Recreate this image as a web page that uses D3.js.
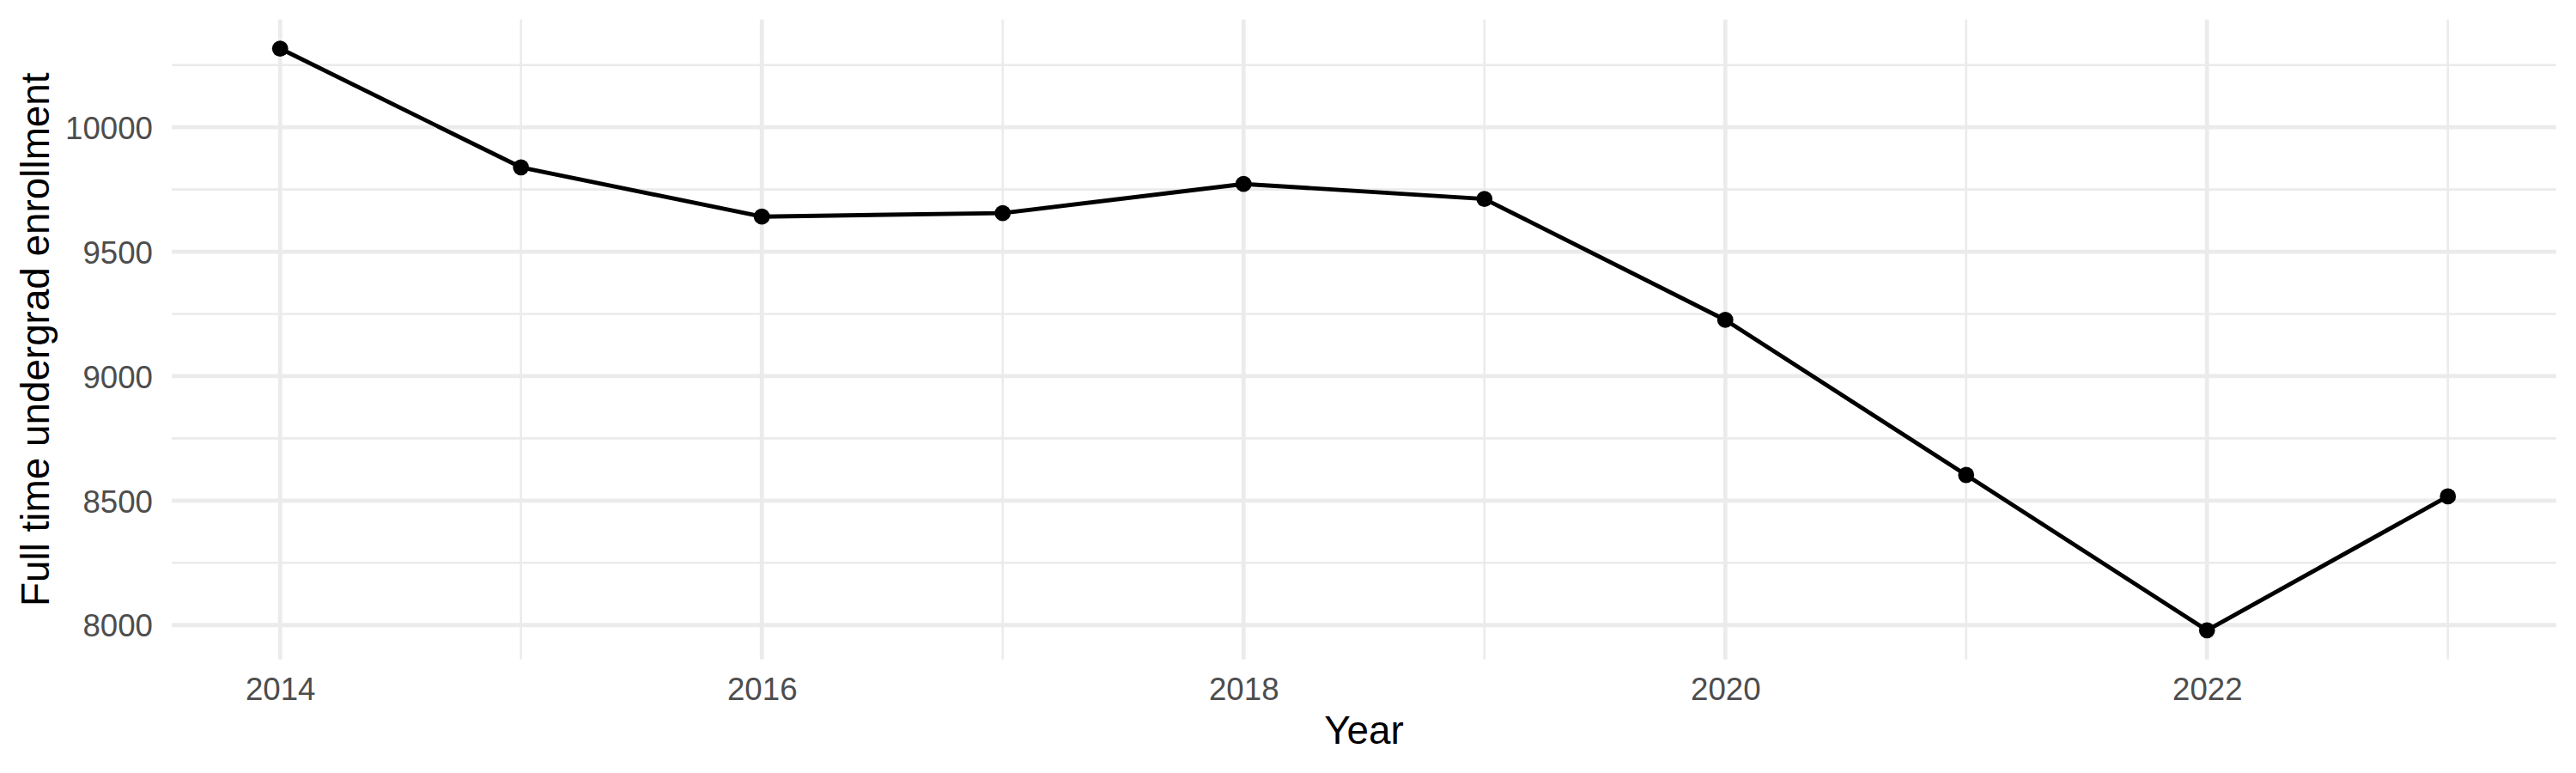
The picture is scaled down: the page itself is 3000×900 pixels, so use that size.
<!DOCTYPE html>
<html>
<head>
<meta charset="utf-8">
<script src="https://cdn.jsdelivr.net/npm/d3@7"></script>
<style>
  html, body { margin: 0; padding: 0; background: #fff; }
  svg { display: block; }
  text { font-family: "Liberation Sans", Arial, Helvetica, sans-serif; }
</style>
</head>
<body>
<svg id="chart" width="3000" height="900"></svg>
<script>
const years = [2014, 2015, 2016, 2017, 2018, 2019, 2020, 2021, 2022, 2023];
const enrollment = [10316, 9839, 9641, 9655, 9772, 9712, 9226, 8603, 7979, 8517];
const xTicks = [2014, 2016, 2018, 2020, 2022];
const xMinorTicks = [2015, 2017, 2019, 2021, 2023];
const yTicks = [8000, 8500, 9000, 9500, 10000];
const yMinorTicks = [7750, 8250, 8750, 9250, 9750, 10250];
const xTitle = "Year";
const yTitle = "Full time undergrad enrollment";

const data = years.map((y, i) => ({ year: y, value: enrollment[i] }));

const W = 3000, H = 900;
const panel = { left: 200, right: 2977, top: 22.7, bottom: 767.7 };

const svg = d3.select("#chart");

function expand(ext) {
  const d = (ext[1] - ext[0]) * 0.05;
  return [ext[0] - d, ext[1] + d];
}

const x = d3.scaleLinear()
  .domain(expand(d3.extent(years)))
  .range([panel.left, panel.right]);
const y = d3.scaleLinear()
  .domain(expand(d3.extent(enrollment)))
  .range([panel.bottom, panel.top]);

const grid = svg.append("g");
const yMinorVis = yMinorTicks.filter(v => y(v) >= panel.top && y(v) <= panel.bottom);

// minor gridlines
grid.selectAll("line.ymin").data(yMinorVis).enter().append("line")
  .attr("x1", panel.left).attr("x2", panel.right)
  .attr("y1", d => y(d)).attr("y2", d => y(d))
  .attr("stroke", "#EBEBEB").attr("stroke-width", 2.6);
grid.selectAll("line.xmin").data(xMinorTicks).enter().append("line")
  .attr("y1", panel.top).attr("y2", panel.bottom)
  .attr("x1", d => x(d)).attr("x2", d => x(d))
  .attr("stroke", "#EBEBEB").attr("stroke-width", 2.6);
// major gridlines
grid.selectAll("line.ymaj").data(yTicks).enter().append("line")
  .attr("x1", panel.left).attr("x2", panel.right)
  .attr("y1", d => y(d)).attr("y2", d => y(d))
  .attr("stroke", "#EBEBEB").attr("stroke-width", 4.8);
grid.selectAll("line.xmaj").data(xTicks).enter().append("line")
  .attr("y1", panel.top).attr("y2", panel.bottom)
  .attr("x1", d => x(d)).attr("x2", d => x(d))
  .attr("stroke", "#EBEBEB").attr("stroke-width", 4.8);

// axes (text only, via d3 axis)
const xAxis = svg.append("g")
  .attr("transform", `translate(0,${panel.bottom})`)
  .call(d3.axisBottom(x).tickValues(xTicks).tickFormat(d3.format("d")).tickSize(0).tickPadding(20.7));
xAxis.select(".domain").remove();
xAxis.selectAll("text")
  .attr("font-size", 36.67).attr("fill", "#4D4D4D")
  .attr("font-family", "Liberation Sans, Arial, sans-serif")
  .attr("dy", "0.72em");

const yAxis = svg.append("g")
  .attr("transform", `translate(${panel.left},0)`)
  .call(d3.axisLeft(y).tickValues(yTicks).tickFormat(d3.format("d")).tickSize(0).tickPadding(22));
yAxis.select(".domain").remove();
yAxis.selectAll("text")
  .attr("font-size", 36.67).attr("fill", "#4D4D4D")
  .attr("font-family", "Liberation Sans, Arial, sans-serif")
  .attr("dy", "0.36em");

// line
const line = d3.line().x(d => x(d.year)).y(d => y(d.value));
svg.append("path").datum(data)
  .attr("d", line)
  .attr("fill", "none").attr("stroke", "#000")
  .attr("stroke-width", 4.9).attr("stroke-linejoin", "round");

// points
svg.selectAll("circle.pt").data(data).enter().append("circle")
  .attr("cx", d => x(d.year)).attr("cy", d => y(d.value))
  .attr("r", 9.4).attr("fill", "#000");

// titles
svg.append("text")
  .attr("x", (panel.left + panel.right) / 2).attr("y", 866)
  .attr("text-anchor", "middle").attr("font-size", 45.83).attr("fill", "#000")
  .text(xTitle);
svg.append("text")
  .attr("transform", `translate(57,${(panel.top + panel.bottom) / 2}) rotate(-90)`)
  .attr("text-anchor", "middle").attr("font-size", 45.83).attr("fill", "#000")
  .text(yTitle);
</script>
</body>
</html>
